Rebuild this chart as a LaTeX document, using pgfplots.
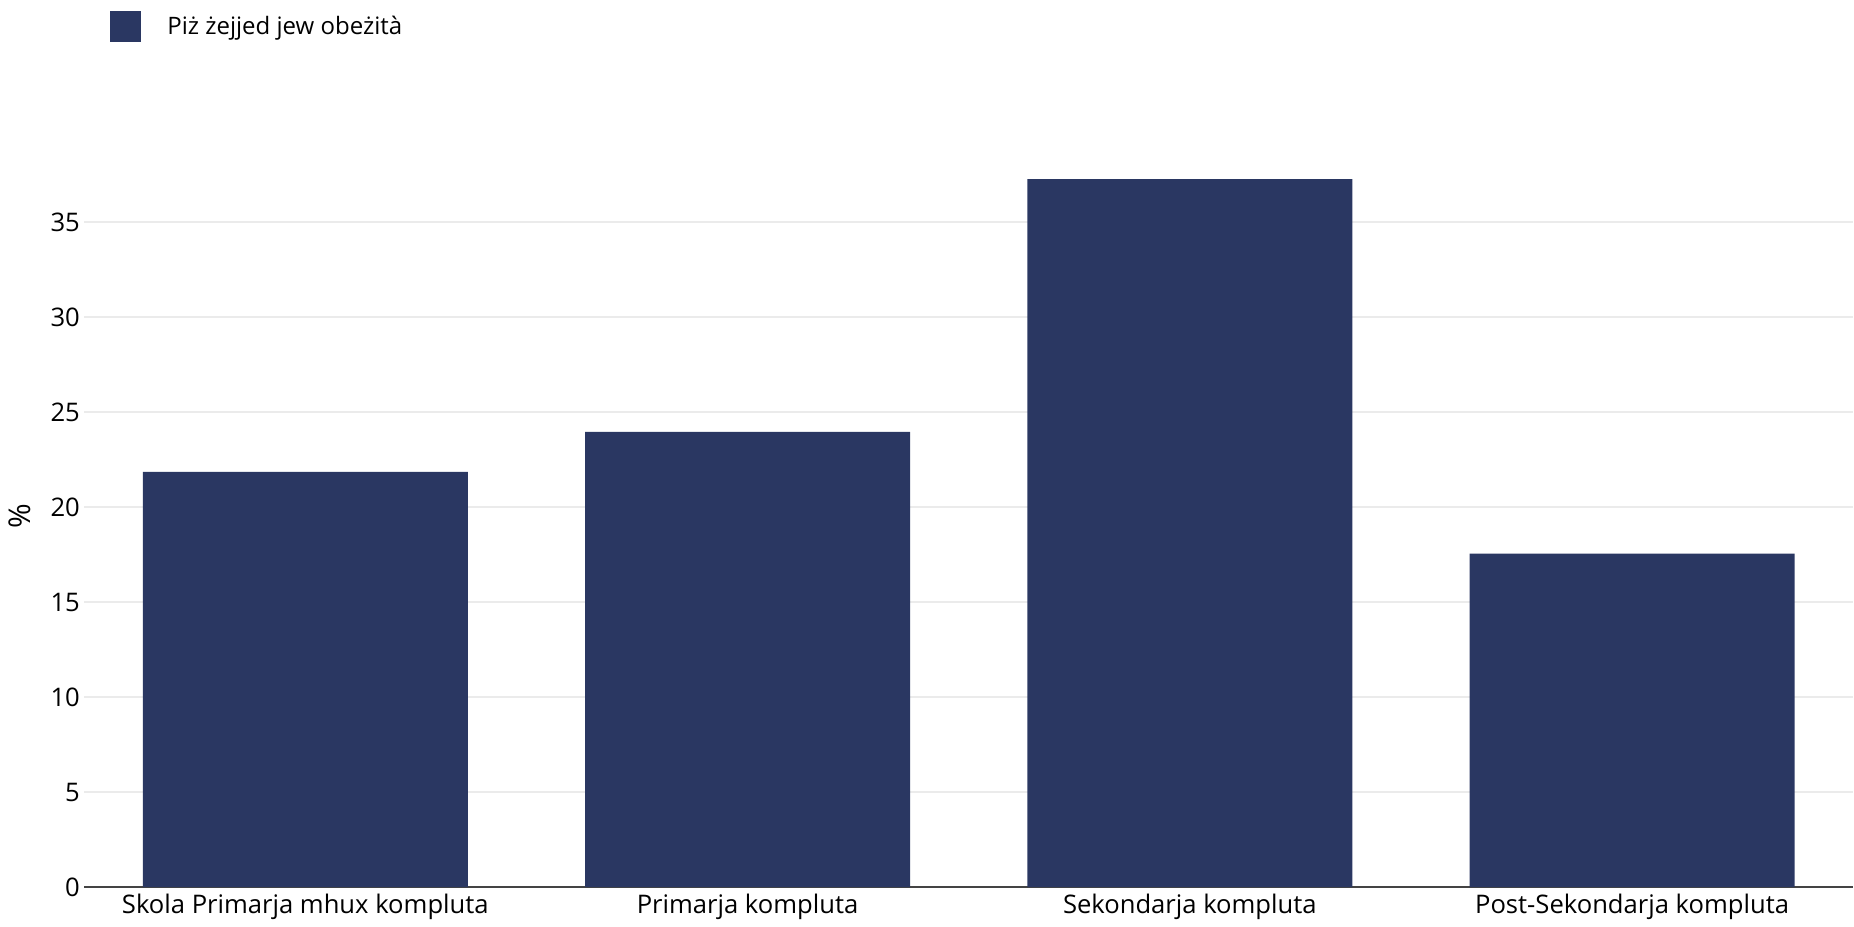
\documentclass[border=0pt]{standalone}
\usepackage{pgfplots}
\pgfplotsset{compat=1.18}
\usepackage{fontspec}
\setmainfont{Open Sans}
\definecolor{barc}{RGB}{42,55,98}
\definecolor{gridc}{RGB}{235,235,235}
\definecolor{axc}{RGB}{68,68,68}
\begin{document}
\begin{tikzpicture}
\path[use as bounding box] (-42.1pt,-20pt) rectangle (884.9pt,443.5pt);
\begin{axis}[
  scale only axis,
  width=884.5pt, height=370.5pt,
  xmin=-0.5, xmax=3.5, ymin=0, ymax=39,
  xtick=data,
  xticklabels={Skola Primarja mhux kompluta, Primarja kompluta, Sekondarja kompluta, Post-Sekondarja kompluta},
  ytick={0,5,...,35},
  major tick length=0pt,
  axis lines*=left,
  y axis line style={draw=none},
  x axis line style={draw=axc, line width=1pt},
  ymajorgrids,
  grid style={gridc, line width=0.8pt},
  font=\fontsize{12pt}{14pt}\selectfont,
  tick label style={font=\fontsize{12.8pt}{15pt}\selectfont},
  /pgf/number format/assume math mode=true,
  yticklabel style={inner sep=0pt, xshift=-2pt},
  xticklabel style={inner sep=0pt, yshift=-3.5pt},
  ylabel={\%},
  ylabel style={at={(axis description cs:-0.0363,0.5)}, anchor=center, font=\fontsize{15pt}{17pt}\selectfont},
  legend style={at={(axis description cs:0.0146,1.1826)}, anchor=north west, draw=none, fill=none, inner sep=0pt, nodes={inner sep=0pt, anchor=west}, font=\fontsize{12pt}{14pt}\selectfont},
  legend image code/.code={\fill[barc] (0pt,-7.75pt) rectangle (15.5pt,7.75pt); \path (28.5pt,0pt);},
]
\addplot[ybar, bar width=162.5pt, fill=barc, draw=none] coordinates {(0,21.85) (1,23.95) (2,37.25) (3,17.55)};
\addlegendentry{Piż żejjed jew obeżità}
\end{axis}
\end{tikzpicture}
\end{document}
